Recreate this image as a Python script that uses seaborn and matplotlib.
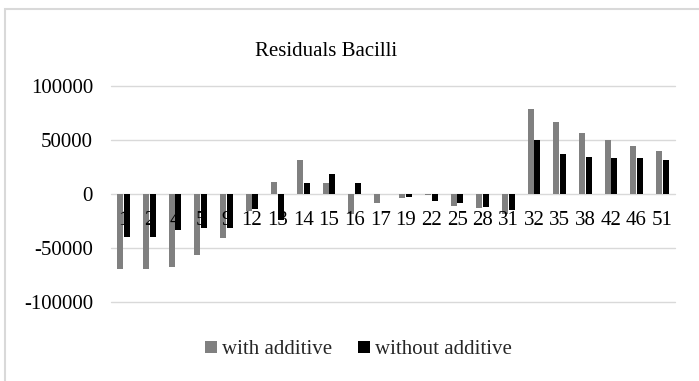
import matplotlib
matplotlib.use("Agg")
import matplotlib.pyplot as plt
from matplotlib.patches import Rectangle, Patch
import seaborn as sns
import pandas as pd

# Residuals per sample
samples = ["1", "2", "4", "5", "9", "12", "13", "14", "15", "16", "17",
           "19", "22", "25", "28", "31", "32", "35", "38", "42", "46", "51"]
with_additive = [-69000, -69000, -67500, -56500, -40500, -16000, 10800, 31800,
                 10500, -18200, -8300, -3400, -1200, -10800, -13000, -18500,
                 78700, 66700, 56500, 49700, 44100, 39500]
without_additive = [-40000, -40000, -33000, -31800, -31800, -14200, -24500, 10500,
                    18800, 10500, 0, -3000, -6500, -8600, -11700, -14500,
                    49700, 37300, 34000, 33600, 33300, 31200]
series_names = ["with additive", "without additive"]
y_ticks = [-100000, -50000, 0, 50000, 100000]

df = pd.DataFrame({
    "sample": samples * 2,
    "residual": with_additive + without_additive,
    "series": [series_names[0]] * len(samples) + [series_names[1]] * len(samples),
})

sns.set_theme(style="white")
plt.rcParams["font.family"] = ["Liberation Serif", "DejaVu Serif"]

fig = plt.figure(figsize=(6.99, 3.81), dpi=100)
W, H = 699, 381
ax = fig.add_axes([111 / W, 1 - 302 / H, (675 - 111) / W, (302 - 86) / H])

colors = {"with additive": "#808080", "without additive": "#000000"}
sns.barplot(data=df, x="sample", y="residual", hue="series", order=samples,
            hue_order=series_names, palette=colors, width=0.52, gap=0.1,
            saturation=1, errorbar=None, ax=ax, zorder=2, legend=False,
            linewidth=0)

ax.set_ylim(-100000, 100000)
ax.set_xlim(-0.5, len(samples) - 0.5)
ax.set_yticks(y_ticks)
ax.set_yticklabels([str(v) for v in y_ticks])
for v in y_ticks:
    ax.axhline(v, color="#d9d9d9", lw=1.0, zorder=0, clip_on=False)

ax.set_xlabel("")
ax.set_ylabel("")
for s in ax.spines.values():
    s.set_visible(False)
ax.spines["bottom"].set_position(("data", 0))
ax.set_axisbelow(False)
ax.tick_params(axis="x", length=0, pad=12.5, labelsize=15, colors="black")
ax.tick_params(axis="y", length=0, pad=13, labelsize=15, colors="black")
for lbl in ax.get_xticklabels():
    lbl.set_zorder(5)

fig.text(326 / W, 1 - 52 / H, "Residuals Bacilli", ha="center", va="center",
         fontsize=15, color="black")

handles = [Patch(facecolor=colors[n], edgecolor="none", label=n) for n in series_names]
fig.legend(handles=handles, loc="center", bbox_to_anchor=(358.5 / W, 1 - 350 / H),
           ncol=2, frameon=False, fontsize=15, handlelength=0.55, handleheight=0.55,
           handletextpad=0.25, columnspacing=1.25, borderpad=0)

# chart frame
fig.patches.append(Rectangle((5 / W, -0.1), 1.2, 1.1 - 9 / H, transform=fig.transFigure,
                             fill=False, edgecolor="#d9d9d9", lw=1.5, clip_on=False))

fig.savefig("out.png", dpi=100)
